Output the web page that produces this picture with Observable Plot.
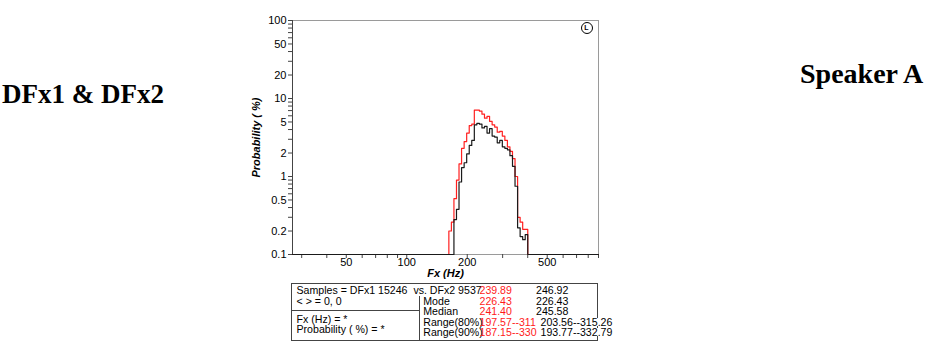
<!DOCTYPE html>
<html>
<head>
<meta charset="utf-8">
<script src="https://cdn.jsdelivr.net/npm/d3@7"></script>
<script src="https://cdn.jsdelivr.net/npm/@observablehq/plot@0.6"></script>
<style>
  html, body { margin: 0; padding: 0; background: #fff; }
  #wrap { position: relative; width: 948px; height: 356px; overflow: hidden; }
  #chart { position: absolute; left: 0; top: 0; }
  .title { position: absolute; font-family: "Liberation Serif", "Times New Roman", serif; font-weight: bold; line-height: 26px; white-space: nowrap; color: #000; }
  #tbl { position: absolute; left: 291px; top: 283px; width: 305px; height: 56px; border: 1px solid #444; }
  .t { position: absolute; font-family: "Liberation Sans", Arial, sans-serif; font-size: 10.6px; line-height: 8px; white-space: pre; color: #000; }
  .r { color: #ff1a1a; }
  .w { background: #fff; }
  .ln { position: absolute; background: #444; }
  #icon { position: absolute; left: 580.5px; top: 21.5px; width: 10px; height: 10px; border: 1.6px solid #000; border-radius: 50%; font: bold 7px "Liberation Sans", Arial, sans-serif; line-height: 10px; text-align: center; }
</style>
</head>
<body>
<div id="wrap">
  <div id="chart"></div>
  <div class="title" id="t1">DFx1 &amp; DFx2</div>
  <div class="title" id="t2">Speaker A</div>
  <div id="icon">L</div>
  <div id="tbl"></div>
</div>
<script>
// ---- data ----
const binEdges = [162.0,166.8,171.7,176.8,182.0,187.4,193.0,198.7,204.6,210.6,216.9,223.3,229.9,236.7,243.7,250.9,258.3,266.0,273.9,282.0,290.3,298.9,307.8,316.9,326.2,335.9,345.8,356.1,366.6,377.5,388.6,400.1];
const dfx1 = [0.20,0.26,0.52,0.90,1.45,2.3,2.8,3.6,4.5,4.7,7.1,7.1,6.9,6.3,5.6,5.9,5.1,4.6,4.3,3.7,3.8,3.3,2.9,2.4,2.1,1.7,1.0,0.30,0.26,0.21,0.21];
const dfx2 = [null,null,0.28,0.38,0.85,1.3,1.5,1.95,2.5,2.9,4.6,4.8,4.7,4.2,4.4,3.6,4.1,3.3,3.2,2.7,2.9,2.4,2.3,2.2,1.85,1.35,0.75,0.22,0.17,0.155,0.18];
const xDomain = [27, 900];
const yDomain = [0.1, 100];
const xTicks = [30,40,50,60,70,80,90,100,200,300,400,500,600,700,800,900];
const xLabels = [50,100,200,500];
const yTicks = [0.1,0.2,0.3,0.4,0.5,0.6,0.7,0.8,0.9,1,2,3,4,5,6,7,8,9,10,20,30,40,50,60,70,80,90,100];
const yLabels = [0.1,0.2,0.5,1,2,5,10,20,50,100];
const xTitle = "Fx (Hz)";
const yTitle = "Probability ( %)";

// Table contents
const statNames = ["Mode","Median","Range(80%)","Range(90%)"];
const dfx1Stats = ["239.89","226.43","241.40","197.57--311","187.15--330"];
const dfx2Stats = ["246.92","226.43","245.58","203.56--315.26","193.77--332.79"];
const sampleLine = "Samples = DFx1 15246  vs. DFx2 9537";
const leftLines = ["< > = 0, 0","Fx (Hz) = *","Probability ( %) = *"];

// build step-line points: floor -> bins -> floor
function steps(vals) {
  const pts = [{f: xDomain[0], p: yDomain[0]}];
  const first = vals.findIndex(v => v != null);
  pts.push({f: binEdges[first], p: yDomain[0]});
  for (let i = first; i < vals.length; i++) pts.push({f: binEdges[i], p: vals[i]});
  pts.push({f: binEdges[vals.length], p: yDomain[0]});
  pts.push({f: xDomain[1], p: yDomain[0]});
  return pts;
}

const chart = Plot.plot({
  width: 948, height: 285,
  marginLeft: 292, marginRight: 350, marginTop: 20, marginBottom: 31,
  style: {fontFamily: "'Liberation Sans', Arial, sans-serif", fontSize: "11px", color: "#000", background: "transparent", overflow: "visible"},
  x: {type: "log", domain: xDomain},
  y: {type: "log", domain: yDomain},
  marks: [
    Plot.frame({stroke: "#9a9a9a"}),
    Plot.axisX({ticks: xTicks, tickSize: 4, text: null, label: null, stroke: "#444"}),
    Plot.axisY({ticks: yTicks, tickSize: 4, text: null, label: yTitle, labelAnchor: "center", labelOffset: 40, stroke: "#444"}),
    Plot.text(xLabels, {x: d => d, frameAnchor: "bottom", dy: 11, text: d => String(d), fontSize: 11}),
    Plot.text(yLabels, {y: d => d, frameAnchor: "left", dx: -6, textAnchor: "end", text: d => String(d), fontSize: 11}),
    Plot.ruleX([xDomain[0]], {stroke: "#444"}),
    Plot.line(steps(dfx1), {x: "f", y: "p", curve: "step-after", stroke: "#ff2020", strokeWidth: 1.2}),
    Plot.line(steps(dfx2), {x: "f", y: "p", curve: "step-after", stroke: "#1a1a1a", strokeWidth: 1.2}),
    Plot.text([xTitle], {frameAnchor: "bottom", dy: 22, fontWeight: "bold", fontStyle: "italic", fontSize: 11})
  ]
});
// clean and style the y-axis title (no arrow, bold italic)
chart.querySelectorAll("text").forEach(t => {
  if (t.textContent.indexOf(yTitle) >= 0) {
    t.textContent = yTitle;
    t.style.fontWeight = "bold"; t.style.fontStyle = "italic"; t.style.fontSize = "11px";
  }
});
document.getElementById("chart").appendChild(chart);

// titles
const t1 = document.getElementById("t1"); t1.style.left = "2px"; t1.style.top = "81px"; t1.style.fontSize = "27px";
const t2 = document.getElementById("t2"); t2.style.left = "800px"; t2.style.top = "61px"; t2.style.fontSize = "28px";

// table
const tbl = document.getElementById("tbl");
const ox = 292, oy = 284; // inner origin of the table box
const baseOff = (8 - 1.117 * 10.6) / 2 + 0.905 * 10.6; // baseline offset in an 8px line box
function txt(s, x, baseline, cls) {
  const d = document.createElement("div");
  d.className = "t" + (cls ? " " + cls : "");
  d.textContent = s;
  d.style.left = (x - ox) + "px";
  d.style.top = (baseline - baseOff - oy) + "px";
  tbl.appendChild(d);
}
function line(x, y, w, h) {
  const d = document.createElement("div");
  d.className = "ln";
  d.style.left = (x - ox) + "px"; d.style.top = (y - oy) + "px";
  d.style.width = w + "px"; d.style.height = h + "px";
  tbl.appendChild(d);
}
line(292, 310, 128, 1);
line(419, 296, 1, 44);
txt(sampleLine, 296.5, 293.3);
txt(leftLines[0], 296.5, 305);
txt(leftLines[1], 296.5, 323);
txt(leftLines[2], 296.5, 333);
const rowBase = [304.5, 314.5, 325.5, 335.5];
statNames.forEach((s, i) => txt(s, 423.3, rowBase[i]));
txt(dfx1Stats[0], 479.5, 293.3, "r");
txt(dfx2Stats[0], 536, 293.5);
for (let i = 1; i < 5; i++) {
  txt(dfx1Stats[i], 479.5, rowBase[i-1], "r");
  txt(dfx2Stats[i], i >= 3 ? 540.5 : 536, rowBase[i-1], i >= 3 ? "w" : "");
}
</script>
</body>
</html>
